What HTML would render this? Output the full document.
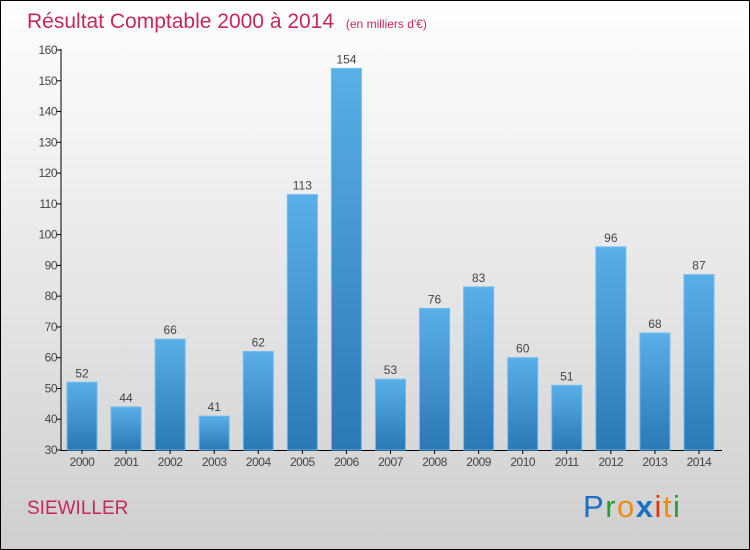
<!DOCTYPE html>
<html><head><meta charset="utf-8"><style>
body{margin:0}
svg{display:block;font-family:"Liberation Sans",sans-serif}
</style></head><body>
<svg id="c" width="750" height="550">
<defs>
<linearGradient id="bg" x1="0" y1="0" x2="0" y2="1"><stop offset="0" stop-color="#ffffff"/><stop offset="1" stop-color="#cfcfcf"/></linearGradient>
<linearGradient id="bar" x1="0" y1="0" x2="0" y2="1"><stop offset="0" stop-color="#5aafe8"/><stop offset="1" stop-color="#2a78b4"/></linearGradient>
</defs>
<rect x="0.5" y="0.5" width="749" height="549" fill="url(#bg)" stroke="#000"/>
<text x="27" y="28" font-size="21" fill="#c4285e">Résultat Comptable 2000 à 2014 <tspan font-size="12" dx="6">(en milliers d'€)</tspan></text>
<text x="27" y="514" font-size="19" fill="#c4285e">SIEWILLER</text>
<g font-size="31" font-family="'Liberation Sans',sans-serif">
<text x="583" y="517" letter-spacing="1.5"><tspan fill="#1a6fc4">P</tspan><tspan fill="#2a9a3a">r</tspan><tspan fill="#f08a10">o</tspan><tspan fill="#1a6fc4" font-weight="bold">x</tspan><tspan fill="#e03010">i</tspan><tspan fill="#f08a10">t</tspan><tspan fill="#2a9a3a">i</tspan></text>
</g>
<g id="plot"></g>
</svg>
<script>
const years=["2000","2001","2002","2003","2004","2005","2006","2007","2008","2009","2010","2011","2012","2013","2014"];
const values=[52,44,66,41,62,113,154,53,76,83,60,51,96,68,87];
const yTicks=[30,40,50,60,70,80,90,100,110,120,130,140,150,160];
const NS="http://www.w3.org/2000/svg";
const g=document.getElementById('plot');
const y=v=>450-(v-30)*400/130;
const x=i=>82+i*44.07;
function el(t,a){const e=document.createElementNS(NS,t);for(const k in a)e.setAttribute(k,a[k]);g.appendChild(e);return e;}
const ax=el('line',{x1:61,y1:49,x2:61,y2:451,stroke:'#000'});


const bx=el('line',{x1:61,y1:450.5,x2:722,y2:450.5,stroke:'#000'});


yTicks.forEach(v=>{
 const t=el('line',{x1:57,x2:61,y1:y(v),y2:y(v),stroke:'#000'});
 
 
 const l=el('text',{x:57,y:y(v)+4,'font-size':12,fill:'#444','text-anchor':'end','letter-spacing':'-0.5'});
 l.textContent=v;
 
 
});
years.forEach((yr,i)=>{
 const v=values[i];
 const r=el('rect',{x:x(i)-15,y:y(v),width:30,height:450-y(v),fill:'url(#bar)',stroke:'#6cbcf0','stroke-width':1});
 
 
 const vl=el('text',{x:x(i),y:y(v)-5,'font-size':12,fill:'#444','text-anchor':'middle'});
 vl.textContent=v;
 
 
 const t=el('line',{x1:x(i),x2:x(i),y1:450,y2:454,stroke:'#000'});
 
 
 const xl=el('text',{x:x(i),y:466,'font-size':12,fill:'#444','text-anchor':'middle','letter-spacing':'-0.5'});
 xl.textContent=yr;
 
 
});
</script>
</body></html>
